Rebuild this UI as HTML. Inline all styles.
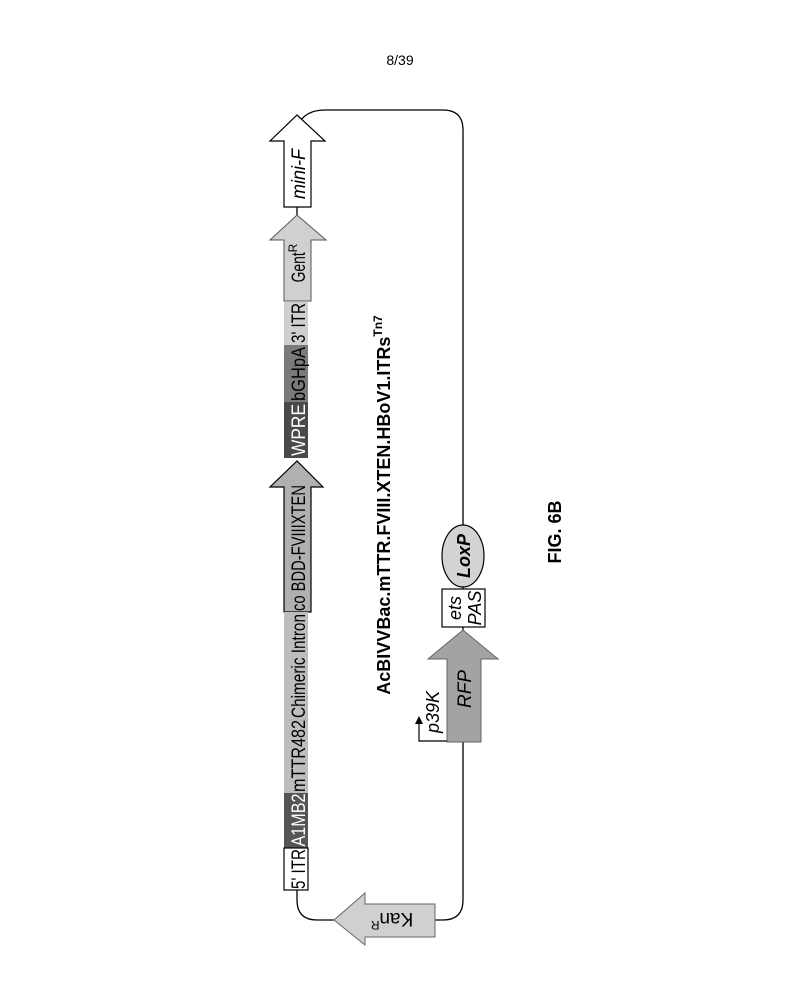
<!DOCTYPE html>
<html><head><meta charset="utf-8"><style>html,body{margin:0;padding:0;background:#fff}svg{display:block}</style></head>
<body>
<svg width="800" height="1000" viewBox="0 0 800 1000" xmlns="http://www.w3.org/2000/svg" font-family="Liberation Sans, sans-serif">
<text x="400" y="65" font-size="14" text-anchor="middle">8/39</text>
<path d="M298 125 Q305 110 325 110 L443 110 Q463 110 463 130 L463 900 Q463 920 443 920 L435 920" fill="none" stroke="#000" stroke-width="1.3"/>
<path d="M334 920 L317 920 Q297 920 297 900 L297 890" fill="none" stroke="#000" stroke-width="1.3"/>
<line x1="297" y1="207" x2="297" y2="216" stroke="#000" stroke-width="1.3"/>
<path d="M284 207 L284 141 L270 141 L297 115 L325 141 L311 141 L311 207 Z" fill="#fff" stroke="#000" stroke-width="1.2"/>
<text transform="translate(305,174) rotate(-90)" font-size="19" text-anchor="middle" font-style="italic" textLength="50" lengthAdjust="spacingAndGlyphs">mini-F</text>
<path d="M284 301 L284 240 L270 240 L297 215 L326 240 L311 240 L311 301 Z" fill="#d0d0d0" stroke="#555" stroke-width="1"/>
<text transform="translate(305,263) rotate(-90)" font-size="19" text-anchor="middle"><tspan textLength="30" lengthAdjust="spacingAndGlyphs">Gent</tspan><tspan font-size="12" dy="-8">R</tspan></text>
<rect x="284" y="302" width="24" height="43" fill="#cfcfcf"/>
<text transform="translate(305,323) rotate(-90)" font-size="19" text-anchor="middle" textLength="40" lengthAdjust="spacingAndGlyphs">3' ITR</text>
<rect x="284" y="345" width="24" height="57" fill="#7a7a7a"/>
<text transform="translate(305,374) rotate(-90)" font-size="19" text-anchor="middle" textLength="54" lengthAdjust="spacingAndGlyphs">bGHpA</text>
<rect x="284" y="402" width="24" height="56" fill="#4a4a4a"/>
<text transform="translate(305,430) rotate(-90)" font-size="19" text-anchor="middle" fill="#fff" textLength="52" lengthAdjust="spacingAndGlyphs">WPRE</text>
<path d="M284 612 L284 487 L270 487 L297 461 L323 487 L311 487 L311 612 Z" fill="#b0b0b0" stroke="#000" stroke-width="1.2"/>
<text transform="translate(305,548) rotate(-90)" font-size="19" text-anchor="middle" textLength="126" lengthAdjust="spacingAndGlyphs">co BDD-FVIIIXTEN</text>
<rect x="284" y="612" width="24" height="181" fill="#bdbdbd"/>
<line x1="284" y1="720" x2="308" y2="720" stroke="#aaa" stroke-width="0.8"/>
<text transform="translate(305,666) rotate(-90)" font-size="19" text-anchor="middle" textLength="104" lengthAdjust="spacingAndGlyphs">Chimeric Intron</text>
<text transform="translate(305,756) rotate(-90)" font-size="19" text-anchor="middle" textLength="72" lengthAdjust="spacingAndGlyphs">mTTR482</text>
<rect x="284" y="793" width="24" height="55" fill="#555"/>
<text transform="translate(305,820) rotate(-90)" font-size="19" text-anchor="middle" fill="#fff" textLength="53" lengthAdjust="spacingAndGlyphs">A1MB2</text>
<rect x="284" y="848" width="24" height="42" fill="#fff" stroke="#000" stroke-width="1.2"/>
<text transform="translate(305,869) rotate(-90)" font-size="19" text-anchor="middle" textLength="40" lengthAdjust="spacingAndGlyphs">5' ITR</text>
<path d="M435 904 L435 937 L365 937 L365 945 L334 920 L365 893 L365 904 Z" fill="#d0d0d0" stroke="#666" stroke-width="1"/>
<text transform="translate(392,913) rotate(180)" font-size="19" text-anchor="middle"><tspan>Kan</tspan><tspan font-size="12" dy="-8">R</tspan></text>
<path d="M447 742 L447 659 L428 659 L463 630 L498 659 L481 659 L481 742 Z" fill="#a3a3a3" stroke="#666" stroke-width="1"/>
<text transform="translate(471,689) rotate(-90)" font-size="19" text-anchor="middle" font-style="italic">RFP</text>
<path d="M447 741 L419 741 L419 722" fill="none" stroke="#000" stroke-width="1.2"/>
<path d="M415 724 L419 716 L423 724 Z" fill="#000"/>
<text transform="translate(439,712) rotate(-90)" font-size="18" text-anchor="middle" font-style="italic">p39K</text>
<rect x="442" y="589" width="43" height="38" fill="#fff" stroke="#000" stroke-width="1.2"/>
<text transform="translate(461,608) rotate(-90)" font-size="18" text-anchor="middle" font-style="italic">ets</text>
<text transform="translate(481,608) rotate(-90)" font-size="18" text-anchor="middle" font-style="italic">PAS</text>
<ellipse cx="463" cy="556" rx="21" ry="31" fill="#d3d3d3" stroke="#000" stroke-width="1.2"/>
<text transform="translate(470,556) rotate(-90)" font-size="18" text-anchor="middle" font-weight="bold" font-style="italic">LoxP</text>
<text transform="translate(390,505) rotate(-90)" font-size="18" text-anchor="middle" font-weight="bold">AcBIVVBac.mTTR.FVIII.XTEN.HBoV1.ITRs<tspan font-size="12" dy="-8">Tn7</tspan></text>
<text transform="translate(561,532) rotate(-90)" font-size="18" text-anchor="middle" font-weight="bold">FIG. 6B</text>
</svg>
</body></html>
